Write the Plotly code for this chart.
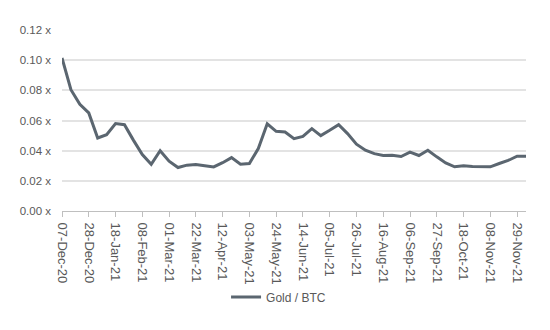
import plotly.graph_objects as go

dates = ["07-Dec-20","14-Dec-20","21-Dec-20","28-Dec-20","04-Jan-21","11-Jan-21","18-Jan-21","25-Jan-21",
         "01-Feb-21","08-Feb-21","15-Feb-21","22-Feb-21","01-Mar-21","08-Mar-21","15-Mar-21","22-Mar-21",
         "29-Mar-21","05-Apr-21","12-Apr-21","19-Apr-21","26-Apr-21","03-May-21","10-May-21","17-May-21",
         "24-May-21","31-May-21","07-Jun-21","14-Jun-21","21-Jun-21","28-Jun-21","05-Jul-21","12-Jul-21",
         "19-Jul-21","26-Jul-21","02-Aug-21","09-Aug-21","16-Aug-21","23-Aug-21","30-Aug-21","06-Sep-21",
         "13-Sep-21","20-Sep-21","27-Sep-21","04-Oct-21","11-Oct-21","18-Oct-21","25-Oct-21","01-Nov-21",
         "08-Nov-21","15-Nov-21","22-Nov-21","29-Nov-21","06-Dec-21"]

gold_btc = [0.1015,0.0804,0.0707,0.0650,0.0484,0.0506,0.0580,0.0572,
            0.0470,0.0374,0.0310,0.0400,0.0330,0.0288,0.0304,0.0308,
            0.0300,0.0292,0.0320,0.0354,0.0310,0.0315,0.0414,0.0578,
            0.0528,0.0524,0.0480,0.0495,0.0546,0.0500,0.0535,0.0572,
            0.0513,0.0443,0.0403,0.0380,0.0368,0.0370,0.0361,0.0390,
            0.0368,0.0403,0.0359,0.0319,0.0293,0.0300,0.0295,0.0293,
            0.0293,0.0315,0.0335,0.0363,0.0363]

y_ticks = [0.0, 0.02, 0.04, 0.06, 0.08, 0.10, 0.12]
y_ticktext = ["0.00 x","0.02 x","0.04 x","0.06 x","0.08 x","0.10 x","0.12 x"]
x_tickvals = dates[::3]

txt = "#595959"
fig = go.Figure()
fig.add_trace(go.Scatter(
    x=dates, y=gold_btc, mode="lines", name="Gold / BTC",
    line=dict(color="#5b6670", width=3),
))

fig.update_layout(
    width=550, height=330,
    margin=dict(l=62, r=24, t=30, b=119),
    paper_bgcolor="white", plot_bgcolor="white",
    font=dict(family="Liberation Sans", color=txt, size=11),
    showlegend=True,
    legend=dict(orientation="h", xref="container", yref="container",
                x=0.411, xanchor="left", y=0.1, yanchor="middle",
                font=dict(size=12, color=txt), bgcolor="rgba(0,0,0,0)",
                itemwidth=30),
)
fig.update_xaxes(
    type="category", range=[0, len(dates) - 1], automargin=False,
    tickmode="array", tickvals=x_tickvals, ticktext=x_tickvals,
    tickangle=90, tickfont=dict(size=13, color=txt),
    ticks="outside", ticklen=5, tickcolor="#bfbfbf", tickwidth=1,
    ticklabelstandoff=3,
    showline=True, linecolor="#bfbfbf", linewidth=1,
    showgrid=False, zeroline=False,
)
fig.update_yaxes(
    range=[0, 0.12], automargin=False,
    tickmode="array", tickvals=y_ticks, ticktext=y_ticktext,
    tickfont=dict(size=11.5, color=txt), ticks="", ticklabelstandoff=10,
    showgrid=True, gridcolor="#e3e3e3", gridwidth=1.5,
    zeroline=False, showline=False,
)

fig.write_html("out.html")
